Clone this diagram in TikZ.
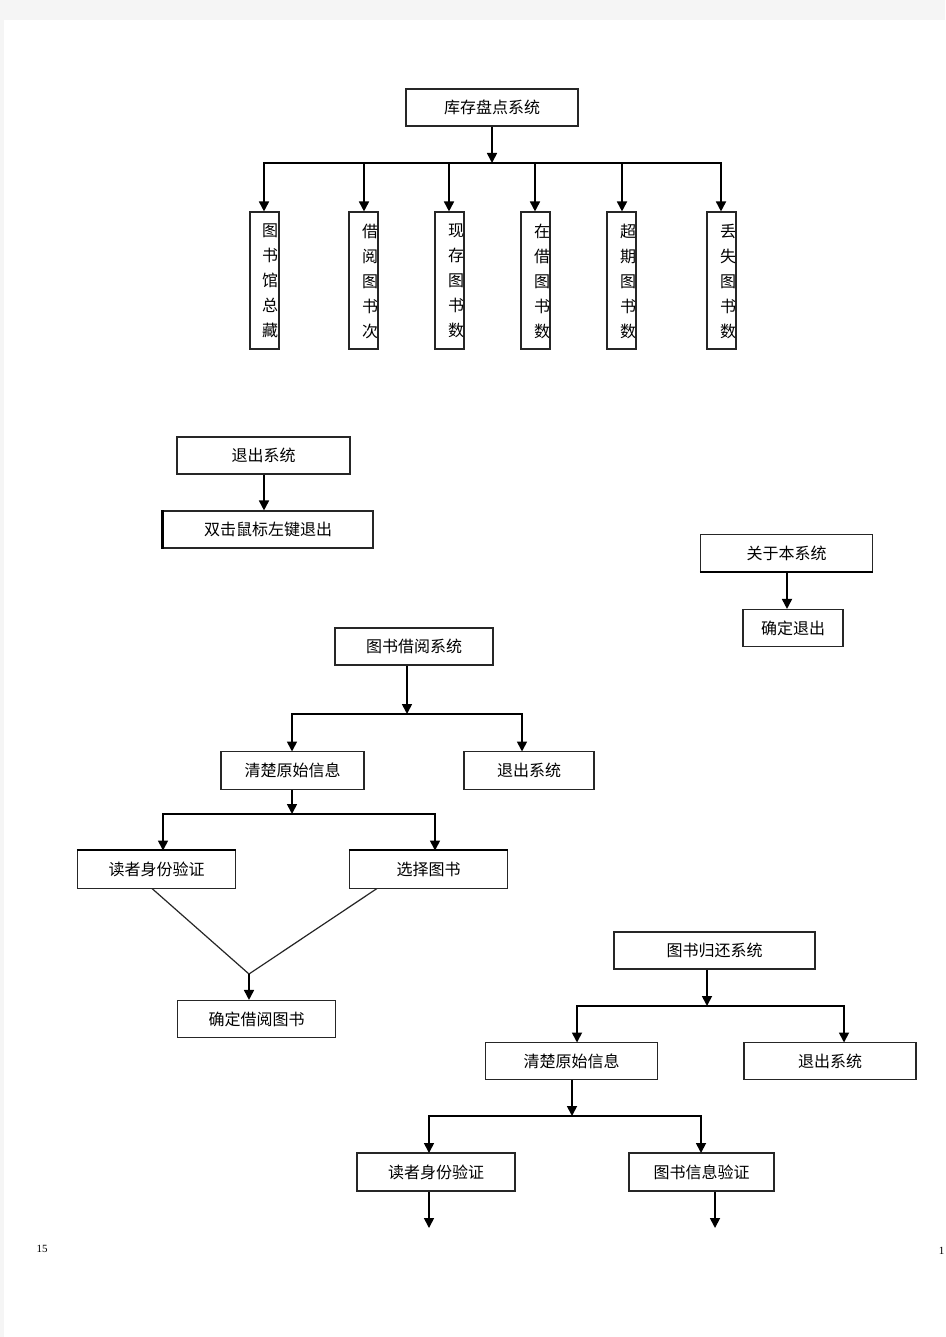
\documentclass[tikz,border=0pt]{standalone}
\usepackage{fontspec}
\setmainfont{Liberation Serif}
\newfontfamily\cjk{Noto Sans CJK SC}
\usetikzlibrary{arrows.meta}
\begin{document}
\begin{tikzpicture}[x=1pt,y=-1pt,
  box/.style={draw=black!85, line width=1.1pt, inner sep=0pt, fill=white,
    font=\cjk\fontsize{16}{16}\selectfont},
  vbox/.style={box, minimum width=29pt, minimum height=137pt},
  vtext/.style={font=\cjk\fontsize{16}{25}\selectfont, align=center, inner sep=0pt},
  conn/.style={line width=1.7pt, draw=black},
  diag/.style={line width=1.2pt, draw=black!85},
  arr/.style={conn, -{Triangle[length=10pt,width=10pt]}},
  thick border/.style={line width=2.2pt, draw=black},
]
% page background
\fill[black!4] (0,0) rectangle (945,1337);
\fill[white] (4,20) rectangle (945,1337);
\useasboundingbox (0,0) rectangle (945,1337);

% ---------- 库存盘点系统 ----------
\node[box, minimum width=172pt, minimum height=37pt] (top) at (492,107.5) {库存盘点系统};
\node[vbox] (v1) at (264.5,280.5) {};
\node[vbox] (v2) at (363.5,280.5) {};
\node[vbox] (v3) at (449.5,280.5) {};
\node[vbox] (v4) at (535.5,280.5) {};
\node[vbox] (v5) at (621.5,280.5) {};
\node[vbox] (v6) at (721.5,280.5) {};
\node[vtext] (t1) at (270,281) {图\\书\\馆\\总\\藏};
\node[vtext] (t2) at (370,281) {借\\阅\\图\\书\\次};
\node[vtext] (t3) at (456,281) {现\\存\\图\\书\\数};
\node[vtext] (t4) at (542,281) {在\\借\\图\\书\\数};
\node[vtext] (t5) at (628,281) {超\\期\\图\\书\\数};
\node[vtext] (t6) at (728,281) {丢\\失\\图\\书\\数};
\coordinate (j1) at (492,163);
\draw[arr] (top.south) -- (j1);
\coordinate (x1) at (264,0);
\coordinate (x2) at (364,0);
\coordinate (x3) at (449,0);
\coordinate (x4) at (535,0);
\coordinate (x5) at (622,0);
\coordinate (x6) at (721,0);
\draw[arr] (j1) -| (v1.north -| x1);
\draw[arr] (j1) -| (v2.north -| x2);
\draw[arr] (j1) -| (v3.north -| x3);
\draw[arr] (j1) -| (v4.north -| x4);
\draw[arr] (j1) -| (v5.north -| x5);
\draw[arr] (j1) -| (v6.north -| x6);

% ---------- 退出系统 ----------
\node[box, minimum width=173pt, minimum height=37pt] (a1) at (263.5,455.5) {退出系统};
\node[box, minimum width=210pt, minimum height=37pt] (a2) at (268,529.5) {双击鼠标左键退出};
\draw[thick border] (a2.north west) -- (a2.south west);
\coordinate (ax) at (264,0);
\draw[arr] (a1.south -| ax) -- (a2.north -| ax);

% ---------- 关于本系统 ----------
\node[box, minimum width=172pt, minimum height=37pt] (b1) at (786.5,553) {关于本系统};
\node[box, minimum width=100pt, minimum height=37pt] (b2) at (793,628) {确定退出};
\draw[thick border] (b1.south west) -- (b1.south east);
\coordinate (bx) at (787,0);
\draw[arr] (b1.south -| bx) -- (b2.north -| bx);

% ---------- 图书借阅系统 ----------
\node[box, minimum width=158pt, minimum height=37pt] (c1) at (414,646.5) {图书借阅系统};
\node[box, minimum width=143pt, minimum height=38pt] (c2) at (292.5,770.5) {清楚原始信息};
\node[box, minimum width=130pt, minimum height=38pt] (c3) at (529,770.5) {退出系统};
\node[box, minimum width=158pt, minimum height=38pt] (c4) at (156.5,869.5) {读者身份验证};
\node[box, minimum width=158pt, minimum height=38pt] (c5) at (428.5,869.5) {选择图书};
\node[box, minimum width=158pt, minimum height=37pt] (c6) at (256.5,1019) {确定借阅图书};
\draw[thick border] (c4.north west) -- (c4.north east);
\draw[thick border] (c5.north west) -- (c5.north east);
\coordinate (j3) at (407,714);
\coordinate (c2in) at (292,751.5);
\coordinate (c3in) at (522,751.5);
\draw[arr] (c1.south -| j3) -- (j3);
\draw[arr] (j3) -| (c2in);
\draw[arr] (j3) -| (c3in);
\coordinate (j4) at (292,814);
\coordinate (c4in) at (163,850.5);
\coordinate (c5in) at (435,850.5);
\draw[arr] (c2.south -| j4) -- (j4);
\draw[arr] (j4) -| (c4in);
\draw[arr] (j4) -| (c5in);
\coordinate (c4out) at (152,888.5);
\coordinate (c5out) at (377,888.5);
\coordinate (j5) at (249,974);
\draw[diag] (c4out) -- (j5) -- (c5out);
\draw[arr] (j5) -- (j5 |- c6.north);

% ---------- 图书归还系统 ----------
\node[box, minimum width=201pt, minimum height=37pt] (d1) at (714.5,950.5) {图书归还系统};
\node[box, minimum width=172pt, minimum height=37pt] (d2) at (571.5,1061) {清楚原始信息};
\node[box, minimum width=172pt, minimum height=37pt] (d3) at (830,1061) {退出系统};
\node[box, minimum width=158pt, minimum height=38pt] (d4) at (436,1172) {读者身份验证};
\node[box, minimum width=145pt, minimum height=38pt] (d5) at (701.5,1172) {图书信息验证};
\coordinate (j7) at (707,1006);
\coordinate (d2in) at (577,1042.5);
\coordinate (d3in) at (844,1042.5);
\draw[arr] (d1.south -| j7) -- (j7);
\draw[arr] (j7) -| (d2in);
\draw[arr] (j7) -| (d3in);
\coordinate (j8) at (572,1116);
\coordinate (d4in) at (429,1153);
\coordinate (d5in) at (701,1153);
\draw[arr] (d2.south -| j8) -- (j8);
\draw[arr] (j8) -| (d4in);
\draw[arr] (j8) -| (d5in);
\coordinate (e1) at (429,1228);
\coordinate (e2) at (715,1228);
\draw[arr] (d4.south -| e1) -- (e1);
\draw[arr] (d5.south -| e2) -- (e2);

% ---------- page numbers ----------
\node[font=\fontsize{11}{11}\selectfont, inner sep=0pt] (pn) at (42,1249) {15};
\node[font=\fontsize{11}{11}\selectfont, inner sep=0pt, anchor=east] (pn2) at (944.5,1251) {1};
\end{tikzpicture}
\end{document}
